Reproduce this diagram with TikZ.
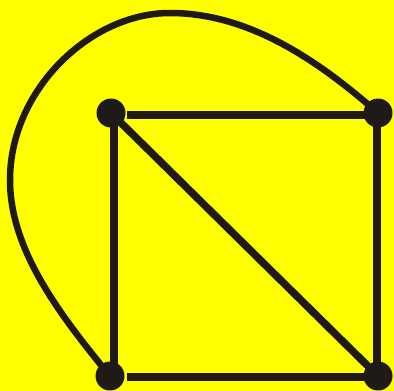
\documentclass[tikz,border=0pt]{standalone}
\definecolor{ink}{HTML}{1F1A17}
\definecolor{bg}{HTML}{FFFF00}
\begin{document}
\begin{tikzpicture}[x=1pt,y=-1pt,
  vertex/.style={circle,fill=ink,minimum size=29pt,inner sep=0pt},
  edge/.style={draw=ink,line width=7.5pt}]
\fill[bg] (0,0) rectangle (394,391);
\useasboundingbox (0,0) rectangle (394,391);
\node[vertex] (tl) at (111,113) {};
\node[vertex] (tr) at (378,113) {};
\node[vertex] (bl) at (110,376) {};
\node[vertex] (br) at (378,376) {};
\coordinate (tlx) at (127,115);
\coordinate (trx) at (378,115);
\coordinate (blx) at (127,377);
\coordinate (brx) at (378,377);
\coordinate (tly) at (114,113);
\coordinate (bly) at (114,376);
\draw[edge] (tlx) -- (trx);
\draw[edge] (blx) -- (brx);
\draw[edge] (tly) -- (bly);
\draw[edge] ([xshift=-1pt]tr.center) -- ([xshift=-1pt]br.center);
\draw[edge] (tl.center) -- (br.center);
\draw[line width=6.5pt,draw=ink] (bl.center) .. controls (60,315) and (10,250) .. (10,180)
  .. controls (10,90) and (90,13) .. (170,13)
  .. controls (250,13) and (320,62) .. (tr.center);
\end{tikzpicture}
\end{document}
